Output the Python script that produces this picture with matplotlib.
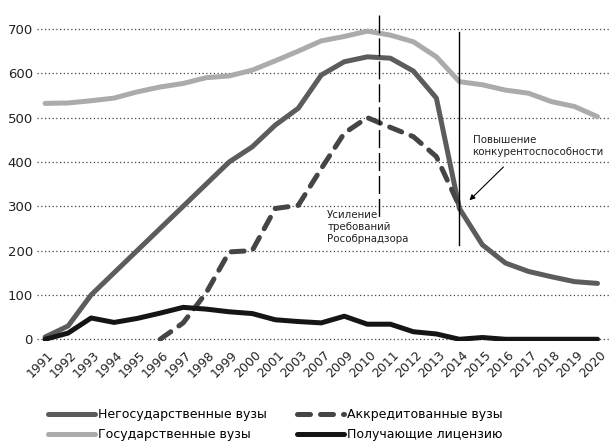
import numpy as np
import matplotlib
matplotlib.use("Agg")
import matplotlib.pyplot as plt
import matplotlib.transforms as mtransforms
from matplotlib import font_manager
from matplotlib.ft2font import FT2Font

# ищем узкий шрифт с кириллицей
narrow = None
for f in font_manager.fontManager.ttflist:
    if not ('Narrow' in f.name or 'Condensed' in f.name or f.stretch in ('condensed', 'semi-condensed')):
        continue
    if f.style != 'normal' or f.weight not in (400, 'normal', 'regular'):
        continue
    try:
        if ord('Ж') in FT2Font(f.fname).get_charmap():
            narrow = f.name
            break
    except Exception:
        pass
if narrow:
    plt.rcParams['font.family'] = [narrow, 'DejaVu Sans']
else:
    plt.rcParams['font.family'] = ['Liberation Sans', 'DejaVu Sans']

# ----------------------данные---------------------------------
years = ['1991', '1992', '1993', '1994', '1995', '1996', '1997', '1998', '1999', '2000',
         '2001', '2003', '2007', '2009', '2010', '2011', '2012', '2013', '2014', '2015',
         '2016', '2017', '2018', '2019', '2020']
nongov = [5, 30, 100, 150, 200, 250, 300, 350, 400, 434, 483, 521, 596, 626, 637, 634,
          605, 544, 295, 213, 172, 153, 141, 130, 126]
gov = [532, 533, 538, 544, 558, 569, 577, 590, 594, 607, 628, 650, 673, 683, 695, 686,
       671, 637, 581, 574, 562, 555, 536, 525, 502]
accr = [np.nan, np.nan, np.nan, np.nan, np.nan, 0, 37, 105, 197, 200, 295, 302, 385, 465,
        500, 478, 457, 412, 300, np.nan, np.nan, np.nan, np.nan, np.nan, np.nan]
lic = [0, 14, 48, 38, 47, 59, 72, 68, 62, 58, 44, 40, 37, 52, 34, 34, 17, 12, 0, 4,
       0, 0, 0, 0, 0]
yticks = [0, 100, 200, 300, 400, 500, 600, 700]

labels = ['Негосударственные вузы', 'Государственные вузы',
          'Аккредитованные вузы', 'Получающие лицензию']

# -------------------график--------------------
x = np.arange(len(years))
fig = plt.figure(figsize=(6.09, 4.42), dpi=100)
ax = fig.add_axes([0.0608, 0.2274, 0.9392, 0.7473])
renderer = fig.canvas.get_renderer()


def text_width(txt, size):
    t = fig.text(0, 0, txt, fontsize=size)
    w = t.get_window_extent(renderer).width
    t.remove()
    return w


lw = 3.6
l1, = ax.plot(x, nongov, color='#5c5c5c', lw=lw, solid_capstyle='round', solid_joinstyle='round')
l2, = ax.plot(x, gov, color='#ababab', lw=lw, solid_capstyle='round', solid_joinstyle='round')
l3, = ax.plot(x, accr, color='#454545', lw=lw, dashes=(2.6, 2.0), dash_capstyle='round')
l4, = ax.plot(x, lic, color='#151515', lw=lw, solid_capstyle='round', solid_joinstyle='round')

# вертикальные линии
ax.plot([14.5, 14.5], [731, 276], color='black', lw=1, dashes=(13, 3.5))
ax.plot([18, 18], [694, 213], color='black', lw=1)

# подписи: ширина "конкурентоспособности" ~133 px
fs_note = min(9.0, 9.0 * 133 / text_width('конкурентоспособности', 9.0))
ax.text(12.26, 292, 'Усиление\nтребований\nРособрнадзора', fontsize=fs_note,
        va='top', ha='left', linespacing=1.25, color='#222222')
ax.text(18.57, 461, 'Повышение\nконкурентоспособности', fontsize=fs_note,
        va='top', ha='left', linespacing=1.25, color='#222222')
ax.annotate('', xy=(18.35, 309), xytext=(20.0, 393),
            arrowprops=dict(arrowstyle='-|>', color='black', lw=0.8, mutation_scale=8))

ax.set_xlim(-0.35, 24.5)
ax.set_ylim(-5, 740)
ax.set_yticks(yticks)
ax.set_xticks(x)
ax.set_xticklabels(years, rotation=45, ha='right', va='top', rotation_mode='anchor')
ax.tick_params(axis='both', length=0, labelsize=9.5, colors='#222222')
ax.tick_params(axis='x', labelsize=9.0, pad=5)
ax.tick_params(axis='y', pad=3)
shift = mtransforms.ScaledTranslation(2 / 100, 0, fig.dpi_scale_trans)
for lab in ax.get_xticklabels():
    lab.set_transform(lab.get_transform() + shift)
ax.grid(axis='y', linestyle=(0, (1, 2)), color='#444444', lw=0.9)
ax.set_axisbelow(True)
for s in ax.spines.values():
    s.set_visible(False)

# легенда снизу
fs_leg = 9.0
px = fs_leg * 100 / 72
w1 = max(text_width(labels[0], fs_leg), text_width(labels[1], fs_leg))
colsp = max(297 - (48 + 47 + 3 + w1), 10)
fig.legend([l1, l2, l3, l4], labels, ncol=2, loc='upper left',
           bbox_to_anchor=(48 / 609, 1 - 408 / 442), frameon=False, fontsize=fs_leg,
           handlelength=47 / px, handletextpad=3 / px, columnspacing=colsp / px,
           labelspacing=0.55, borderaxespad=0, borderpad=0)

plt.savefig('out.png', dpi=100)
